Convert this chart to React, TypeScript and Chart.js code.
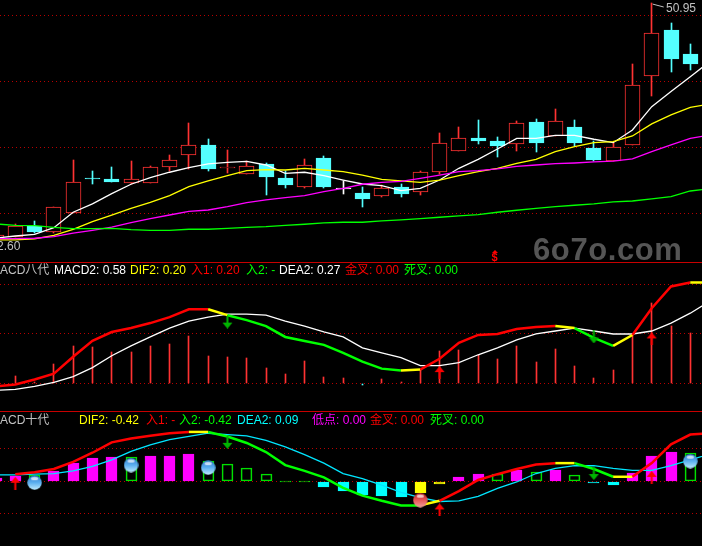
import React, { useEffect, useRef } from "react";
import { Chart, registerables } from "chart.js";

Chart.register(...registerables);

const opens = [33.08,33.28,34.12,33.61,35.10,37.70,37.62,37.37,37.37,38.58,39.49,40.23,38.51,38.05,38.79,37.73,37.07,39.24,36.97,36.59,36.39,37.05,36.69,38.21,39.80,40.76,40.53,40.33,41.97,40.93,41.59,40.00,39.04,40.25,45.48,48.94,47.12];
const closes = [33.38,34.12,33.66,35.50,37.40,37.68,37.45,37.62,38.53,39.06,40.20,38.41,38.53,38.61,37.83,37.20,38.69,37.05,36.97,36.14,36.94,36.51,38.16,40.35,40.73,40.53,40.15,41.87,40.38,42.02,40.38,39.09,40.05,44.75,48.68,46.74,46.36];
const highs = [33.38,34.24,34.47,35.50,39.09,38.26,38.56,39.01,38.64,39.47,41.89,40.68,39.85,38.99,38.86,38.26,39.17,39.39,37.52,37.05,37.20,37.27,38.23,41.14,41.59,42.12,40.83,42.04,42.20,42.95,42.12,40.53,40.35,46.36,50.95,49.47,47.88];
const lows = [33.03,33.23,33.59,33.59,35.05,37.27,37.45,37.30,37.37,38.26,38.38,38.26,38.11,38.05,36.44,36.97,36.97,36.97,36.51,35.53,36.29,36.29,36.44,38.03,39.80,40.30,39.32,39.77,39.70,40.93,40.15,39.01,38.99,40.25,43.94,45.76,45.91];

const ma5 = [33.18,33.33,33.46,33.96,35.13,35.76,36.54,37.25,37.75,38.16,38.51,38.79,38.91,38.99,38.71,38.08,38.16,37.90,37.57,37.27,37.15,36.77,36.94,37.57,38.46,39.14,39.92,40.73,40.73,40.96,40.96,40.66,40.40,41.36,43.13,44.27,45.40,46.54];
const ma10 = [33.03,33.03,33.11,33.38,33.84,34.42,34.92,35.43,35.88,36.39,37.07,37.50,37.90,38.28,38.36,38.33,38.46,38.33,38.21,37.95,37.62,37.50,37.40,37.57,37.90,38.21,38.46,38.84,39.14,39.72,40.10,40.40,40.48,40.91,41.82,42.50,43.08,43.31];
const ma20 = [33.13,33.13,33.16,33.28,33.54,33.76,34.01,34.34,34.65,34.92,35.20,35.30,35.56,35.86,36.06,36.24,36.39,36.69,36.94,37.25,37.40,37.47,37.70,37.95,38.21,38.28,38.41,38.61,38.71,38.81,38.86,38.94,39.01,39.17,39.72,40.23,40.73,40.98];
const ma60 = [34.24,34.14,34.12,33.99,33.89,33.89,33.91,33.81,33.76,33.76,33.84,33.84,33.91,33.99,34.04,34.14,34.22,34.32,34.37,34.37,34.47,34.55,34.65,34.75,34.85,34.95,35.13,35.28,35.43,35.55,35.66,35.76,35.91,35.98,36.14,36.31,36.74,36.92];

const dif8 = [-0.03,-0.01,0.04,0.10,0.27,0.43,0.52,0.56,0.61,0.67,0.75,0.75,0.69,0.64,0.58,0.47,0.43,0.39,0.31,0.22,0.15,0.13,0.14,0.25,0.41,0.49,0.50,0.55,0.57,0.58,0.56,0.46,0.38,0.49,0.76,0.98,1.02,1.02];
const dif8State = "RRRRRRRRRRRYGGGGGGGGGYRRRRRRRYGGYRRRY";
const dea8 = [-0.07,-0.06,-0.03,0.01,0.07,0.16,0.28,0.38,0.47,0.56,0.63,0.67,0.70,0.70,0.69,0.63,0.58,0.52,0.47,0.36,0.31,0.26,0.18,0.18,0.21,0.29,0.36,0.44,0.50,0.53,0.56,0.53,0.50,0.50,0.53,0.61,0.71,0.83];
const macd8 = [0.00,0.08,0.01,0.20,0.38,0.37,0.32,0.32,0.38,0.40,0.48,0.28,0.27,0.26,0.16,0.10,0.23,0.07,0.06,-0.01,0.05,0.01,0.14,0.33,0.34,0.29,0.25,0.38,0.22,0.35,0.18,0.06,0.14,0.50,0.81,0.58,0.51];
const arrows8Up = [[23, 0.11], [34, 0.45]];
const arrows8Down = [[12, 0.62], [31, 0.47]];

const dif10 = [null,0.11,0.14,0.19,0.30,0.44,0.60,0.66,0.70,0.74,0.76,0.76,0.69,0.59,0.45,0.25,0.16,0.06,-0.10,-0.22,-0.30,-0.37,-0.37,-0.30,-0.15,0.02,0.11,0.19,0.26,0.28,0.28,0.19,0.07,0.07,0.28,0.57,0.72,0.74];
const dif10State = "RRRRRRRRRRYGGGGGGGGGGGYRRRRRRYGGYRRRR";
const dea10 = [0.10,0.10,0.11,0.12,0.16,0.23,0.33,0.46,0.56,0.64,0.69,0.74,0.72,0.70,0.63,0.53,0.41,0.28,0.12,0.04,-0.06,-0.17,-0.25,-0.31,-0.30,-0.23,-0.11,-0.01,0.12,0.20,0.24,0.24,0.20,0.17,0.17,0.24,0.33,0.42];
const hist10 = [0.05,0.08,0.10,0.16,0.28,0.36,0.37,0.37,0.39,0.39,0.42,0.32,0.26,0.20,0.11,0.01,0.01,-0.08,-0.15,-0.21,-0.23,-0.24,-0.18,-0.04,0.07,0.11,0.11,0.17,0.14,0.17,0.09,-0.03,-0.06,0.13,0.39,0.45,0.44];
const hist10Kind = "MMGMMMMGMMMGGGGGGCCCCCYYMMGMGMGCCMMMG";
const arrows10Up = [[1, -0.03], [23, -0.44], [34, 0.06]];
const arrows10Down = [[12, 0.60], [31, 0.12]];
const ballsBlue = [[2, -0.02], [7, 0.25], [11, 0.21], [36, 0.31]];
const ballsRed = [[22, -0.29]];

const priceTicks = [35, 40, 45, 50];
const macd8Ticks = [0, 0.5, 1];
const macd10Ticks = [-0.5, 0, 0.5];
const peakLabel = "50.95";
const peakLeader = [[34.05, 50.9], [34.62, 50.68]];
const lowLabel = "2.60";
const watermark = "6o7o.com";
const legend8 = ["ACD八代", "MACD2: 0.58", "DIF2: 0.20", "入1: 0.20", "入2: -", "DEA2: 0.27", "金叉: 0.00", "死叉: 0.00"];
const legend10 = ["ACD十代", "DIF2: -0.42", "入1: -", "入2: -0.42", "DEA2: 0.09", "低点: 0.00", "金叉: 0.00", "死叉: 0.00"];

const RED = "#ff3232";
const CYAN = "#54ffff";
const GRID = "#b80000";
const stateColor: Record<string, string> = { R: "#ff0000", Y: "#ffff00", G: "#00ff00" };
const histFill: Record<string, string> = { M: "#ff00ff", G: "rgba(0,0,0,0)", C: "#00ffff", Y: "#ffff00" };
const histEdge: Record<string, string> = { M: "#ff00ff", G: "#00e000", C: "#00ffff", Y: "#ffff00" };

const XMIN = 0.2074;
const XMAX = 36.607;

const snapBars = {
  id: "snapBars",
  afterDatasetsUpdate(chart: any) {
    chart.data.datasets.forEach((_: any, i: number) => {
      const meta = chart.getDatasetMeta(i);
      if (meta.type !== "bar") return;
      meta.data.forEach((el: any) => {
        el.x = Math.floor(el.x) + 0.5;
        el.y = Math.round(el.y);
        el.base = Math.round(el.base);
        if (el.y === el.base) el.base = el.y + 1;
      });
    });
  },
};

function arrowSprite(color: string, up: boolean) {
  const c = document.createElement("canvas");
  c.width = 11;
  c.height = 13;
  const g = c.getContext("2d")!;
  if (!up) {
    g.translate(0, 13);
    g.scale(1, -1);
  }
  g.fillStyle = color;
  g.beginPath();
  g.moveTo(5.5, 0);
  g.lineTo(10.5, 6);
  g.lineTo(0.5, 6);
  g.closePath();
  g.fill();
  g.fillRect(4.5, 5, 2, 8);
  return c;
}

function ballSprite(top: string, mid: string, low: string) {
  const c = document.createElement("canvas");
  c.width = 15;
  c.height = 15;
  const g = c.getContext("2d")!;
  const r = g.createLinearGradient(0, 0, 0, 15);
  r.addColorStop(0, top);
  r.addColorStop(0.5, mid);
  r.addColorStop(1, low);
  g.fillStyle = r;
  g.beginPath();
  g.arc(7.5, 7.5, 7.2, 0, Math.PI * 2);
  g.fill();
  g.fillStyle = "rgba(255,255,255,0.7)";
  g.beginPath();
  g.ellipse(7.5, 3.4, 3.6, 1.6, 0, 0, Math.PI * 2);
  g.fill();
  return c;
}

const pts = (v: (number | null)[]) => v.map((y, x) => ({ x, y }));
const pairs = (v: number[][]) => v.map(([x, y]) => ({ x, y }));

const thinLine = (data: any, color: string, width = 1.3) => ({
  type: "line",
  data,
  borderColor: color,
  borderWidth: width,
  pointRadius: 0,
  tension: 0,
  order: 2,
});

const stateLine = (values: (number | null)[], states: string) => ({
  type: "line",
  data: pts(values),
  borderWidth: 2.5,
  pointRadius: 0,
  tension: 0,
  order: 1,
  spanGaps: false,
  segment: { borderColor: (ctx: any) => stateColor[states[ctx.p0DataIndex]] },
});

const sprite = (data: any, image: HTMLCanvasElement, order = 0) => ({
  type: "line",
  data,
  showLine: false,
  pointStyle: image,
  pointRadius: 6,
  order,
});

function makeChart(canvas: HTMLCanvasElement, datasets: any[], min: number, max: number, ticks: number[]) {
  return new Chart(canvas, {
    type: "bar",
    data: { datasets },
    plugins: [snapBars],
    options: {
      animation: false,
      responsive: false,
      devicePixelRatio: 1,
      events: [],
      layout: { padding: 0, autoPadding: false },
      plugins: { legend: { display: false }, tooltip: { enabled: false }, title: { display: false } },
      scales: {
        x: { type: "linear", display: false, min: XMIN, max: XMAX, offset: false },
        y: {
          type: "linear",
          min,
          max,
          afterBuildTicks: (s: any) => {
            s.ticks = ticks.map((value) => ({ value }));
          },
          ticks: { display: false },
          border: { display: false, dash: [1, 3] },
          grid: { color: GRID, drawTicks: false, lineWidth: 1 },
        },
      },
    },
  } as any);
}

const T = ({ x, y, c, children }: any) => (
  <span
    style={{
      position: "absolute",
      left: x,
      top: y - 8,
      height: 16,
      lineHeight: "16px",
      color: c,
      fontSize: 12,
      whiteSpace: "nowrap",
    }}
  >
    {children}
  </span>
);

export default function App() {
  const a = useRef<HTMLCanvasElement>(null);
  const b = useRef<HTMLCanvasElement>(null);
  const c = useRef<HTMLCanvasElement>(null);

  useEffect(() => {
    document.body.style.margin = "0";
    document.body.style.background = "#000";
    const wickData = highs.map((h, x) => ({ x, y: [lows[x], h] }));
    const bodyData = opens.map((o, x) => ({ x, y: [Math.min(o, closes[x]), Math.max(o, closes[x])] }));
    const hue = (i: number) => (opens[i] === closes[i] ? "#ffffff" : closes[i] >= opens[i] ? RED : CYAN);

    const price = makeChart(
      a.current!,
      [
        { data: wickData, barThickness: 1, grouped: false, backgroundColor: opens.map((_, i) => hue(i)), order: 6 },
        {
          data: bodyData,
          barThickness: 15,
          grouped: false,
          borderSkipped: false,
          backgroundColor: opens.map((_, i) => (closes[i] > opens[i] ? "#000000" : hue(i))),
          borderColor: opens.map((_, i) => hue(i)),
          borderWidth: 1,
          order: 5,
        },
        thinLine(pts(ma60), "#00ff00"),
        thinLine(pts(ma20), "#ff00ff"),
        thinLine(pts(ma10), "#ffff00"),
        thinLine(pts(ma5), "#ffffff"),
        thinLine(pairs(peakLeader), "#c0c0c0", 1),
      ],
      31.36,
      51.21,
      priceTicks
    );

    const redUp = arrowSprite("#ff0000", true);
    const greenDown = arrowSprite("#00b400", false);

    const m8 = makeChart(
      b.current!,
      [
        { data: pts(macd8), barThickness: 1, grouped: false, backgroundColor: macd8.map((v) => (v < 0 ? CYAN : RED)), order: 6 },
        thinLine(pts(dea8), "#ffffff"),
        stateLine(dif8, dif8State),
        sprite(pairs(arrows8Up), redUp),
        sprite(pairs(arrows8Down), greenDown),
      ],
      -0.278,
      1.227,
      macd8Ticks
    );

    const m10 = makeChart(
      c.current!,
      [
        {
          data: pts(hist10),
          barThickness: 11,
          grouped: false,
          borderSkipped: false,
          backgroundColor: hist10.map((_, i) => histFill[hist10Kind[i]]),
          borderColor: hist10.map((_, i) => histEdge[hist10Kind[i]]),
          borderWidth: 1,
          order: 6,
        },
        thinLine(pts(dea10), "#00e6ff"),
        stateLine(dif10, dif10State),
        sprite(pairs(arrows10Up), redUp),
        sprite(pairs(arrows10Down), greenDown),
        sprite(pairs(ballsBlue), ballSprite("#2f78cc", "#5cb0f0", "#c4eeff")),
        sprite(pairs(ballsRed), ballSprite("#b81c1c", "#e85858", "#f0a0a0")),
      ],
      -0.995,
      1.082,
      macd10Ticks
    );

    return () => {
      price.destroy();
      m8.destroy();
      m10.destroy();
    };
  }, []);

  const panel = (top: number, height: number): React.CSSProperties => ({
    position: "absolute",
    left: 0,
    top,
    width: 702,
    height,
    display: "block",
  });

  return (
    <div
      style={{
        position: "absolute",
        left: 0,
        top: 0,
        width: 702,
        height: 546,
        background: "#000",
        overflow: "hidden",
        fontFamily: '"Liberation Sans", "Noto Sans CJK SC", sans-serif',
      }}
    >
      <canvas ref={a} width={702} height={262} style={panel(0, 262)} />
      <canvas ref={b} width={702} height={149} style={panel(262, 149)} />
      <canvas ref={c} width={702} height={135} style={panel(411, 135)} />
      <div style={{ position: "absolute", left: 0, top: 262, width: 702, height: 1, background: "#c80000" }} />
      <div style={{ position: "absolute", left: 0, top: 411, width: 702, height: 1, background: "#c80000" }} />

      <span
        style={{
          position: "absolute",
          left: 533,
          top: 233,
          lineHeight: "34px",
          height: 34,
          fontSize: 31,
          fontWeight: 700,
          letterSpacing: 0.6,
          color: "#555555",
          whiteSpace: "nowrap",
        }}
      >
        {watermark}
      </span>
      <T x={666} y={8} c="#c0c0c0">{peakLabel}</T>
      <T x={-3} y={246} c="#c0c0c0">{lowLabel}</T>
      <div
        style={{
          position: "absolute",
          left: 492,
          top: 250,
          width: 0,
          height: 0,
          borderLeft: "3px solid transparent",
          borderRight: "3px solid transparent",
          borderBottom: "3px solid #ff0000",
        }}
      />
      <span
        style={{
          position: "absolute",
          left: 491.5,
          top: 251,
          height: 12,
          lineHeight: "12px",
          color: "#ff0000",
          fontSize: 11,
          fontWeight: 700,
        }}
      >
        $
      </span>

      <T x={0} y={270} c="#c0c0c0">{legend8[0]}</T>
      <T x={54} y={270} c="#ffffff">{legend8[1]}</T>
      <T x={130} y={270} c="#ffff00">{legend8[2]}</T>
      <T x={191} y={270} c="#ff0000">{legend8[3]}</T>
      <T x={246} y={270} c="#00ff00">{legend8[4]}</T>
      <T x={279} y={270} c="#ffffff">{legend8[5]}</T>
      <T x={345} y={270} c="#ff0000">{legend8[6]}</T>
      <T x={404} y={270} c="#00ff00">{legend8[7]}</T>

      <T x={0} y={420} c="#c0c0c0">{legend10[0]}</T>
      <T x={79} y={420} c="#ffff00">{legend10[1]}</T>
      <T x={146} y={420} c="#ff0000">{legend10[2]}</T>
      <T x={179} y={420} c="#00ff00">{legend10[3]}</T>
      <T x={237} y={420} c="#00ffff">{legend10[4]}</T>
      <T x={312} y={420} c="#ff00ff">{legend10[5]}</T>
      <T x={370} y={420} c="#ff0000">{legend10[6]}</T>
      <T x={430} y={420} c="#00ff00">{legend10[7]}</T>
    </div>
  );
}
